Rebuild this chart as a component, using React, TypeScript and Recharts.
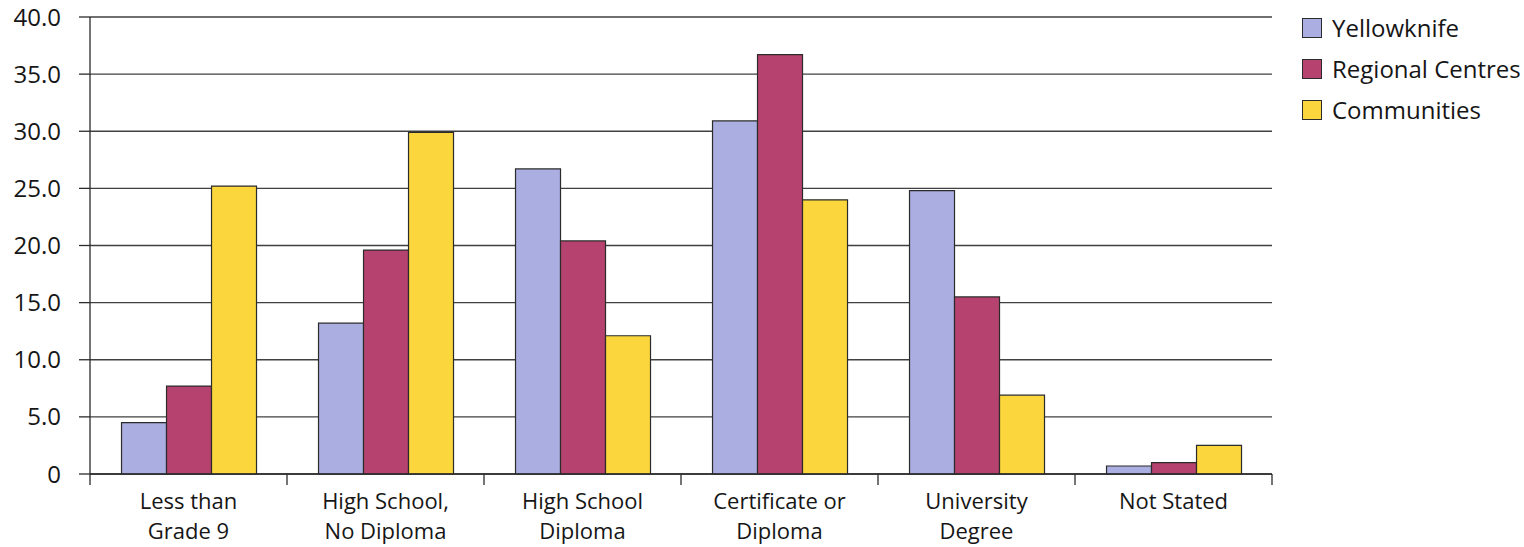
import React from "react";
import {
  BarChart,
  Bar,
  XAxis,
  YAxis,
  CartesianGrid,
  Legend,
} from "recharts";

const categories = [
  "Less than\nGrade 9",
  "High School,\nNo Diploma",
  "High School\nDiploma",
  "Certificate or\nDiploma",
  "University\nDegree",
  "Not Stated",
];

const seriesNames = ["Yellowknife", "Regional Centres", "Communities"];

const yellowknife = [4.5, 13.2, 26.7, 30.9, 24.8, 0.7];
const regionalCentres = [7.7, 19.6, 20.4, 36.7, 15.5, 1.0];
const communities = [25.2, 29.9, 12.1, 24.0, 6.9, 2.5];

const yTicks = [0, 5, 10, 15, 20, 25, 30, 35, 40];

const data = categories.map((name, i) => ({
  name,
  yellowknife: yellowknife[i],
  regional: regionalCentres[i],
  communities: communities[i],
}));

const FONT = "'Open Sans', 'Noto Sans', sans-serif";
const INK = "#161616";
const LINE = "#2b2b2b";

// category label centred in its band, with tick marks on the band edges
const CategoryTick = (props: any) => {
  const { x, y, payload, index, visibleTicksCount } = props;
  const half = payload.offset || 0;
  const lines = String(payload.value).split("\n");
  return (
    <g>
      <line x1={x - half} x2={x - half} y1={y} y2={y + 11} stroke={LINE} strokeWidth={1.3} />
      {index === visibleTicksCount - 1 && (
        <line x1={x + half} x2={x + half} y1={y} y2={y + 11} stroke={LINE} strokeWidth={1.3} />
      )}
      {lines.map((l, i) => (
        <text
          key={i}
          x={x}
          y={y + 35 + i * 30}
          textAnchor="middle"
          fontFamily={FONT}
          fontSize={22}
          fill={INK}
        >
          {l}
        </text>
      ))}
    </g>
  );
};

// legend keeps the series order instead of the default alphabetical one
const LegendBox = (props: any) => {
  const items = [...(props.payload || [])].sort(
    (a: any, b: any) => seriesNames.indexOf(a.value) - seriesNames.indexOf(b.value)
  );
  return (
    <div style={{ fontFamily: FONT, fontSize: 24, color: INK }}>
      {items.map((p: any) => (
        <div
          key={p.value}
          style={{ display: "flex", alignItems: "center", height: 41, whiteSpace: "nowrap" }}
        >
          <span
            style={{
              display: "inline-block",
              width: 18,
              height: 18,
              background: p.color,
              border: `1.3px solid ${LINE}`,
              marginRight: 10,
              flexShrink: 0,
            }}
          />
          <span>{p.value}</span>
        </div>
      ))}
    </div>
  );
};

export default function App() {
  return (
    <div style={{ position: "absolute", left: 0, top: 0, background: "#fff" }}>
      <BarChart
        width={1524}
        height={547}
        data={data}
        margin={{ top: 17, right: 252, bottom: 0, left: 0 }}
        barCategoryGap="16%"
        barGap={0}
      >
        <CartesianGrid
          vertical={false}
          stroke={LINE}
          strokeWidth={1.3}
          strokeOpacity={0.9}
        />
        <XAxis
          dataKey="name"
          height={73}
          interval={0}
          tickLine={false}
          tickSize={0}
          tickMargin={0}
          axisLine={{ stroke: LINE, strokeWidth: 1.3 }}
          tick={<CategoryTick />}
        />
        <YAxis
          width={90}
          domain={[0, 40]}
          ticks={yTicks}
          interval={0}
          tickSize={11}
          tickMargin={18}
          tickLine={{ stroke: LINE, strokeWidth: 1.3 }}
          axisLine={{ stroke: LINE, strokeWidth: 1.3 }}
          tickFormatter={(v: number) => (v === 0 ? "0" : v.toFixed(1))}
          tick={{ fontFamily: FONT, fontSize: 24, fill: INK }}
        />
        <YAxis
          yAxisId="frame"
          orientation="right"
          width={0}
          domain={[0, 40]}
          tick={false}
          tickLine={false}
          axisLine={{ stroke: LINE, strokeWidth: 1.3 }}
        />
        <Legend
          layout="vertical"
          align="center"
          verticalAlign="middle"
          wrapperStyle={{ left: 1302, top: 7, width: 222, height: "auto" }}
          content={<LegendBox />}
        />
        <Bar
          dataKey="yellowknife"
          name={seriesNames[0]}
          fill="#aaaee0"
          stroke={LINE}
          strokeWidth={1.2}
          isAnimationActive={false}
        />
        <Bar
          dataKey="regional"
          name={seriesNames[1]}
          fill="#b6426f"
          stroke={LINE}
          strokeWidth={1.2}
          isAnimationActive={false}
        />
        <Bar
          dataKey="communities"
          name={seriesNames[2]}
          fill="#fbd63c"
          stroke={LINE}
          strokeWidth={1.2}
          isAnimationActive={false}
        />
      </BarChart>
    </div>
  );
}
